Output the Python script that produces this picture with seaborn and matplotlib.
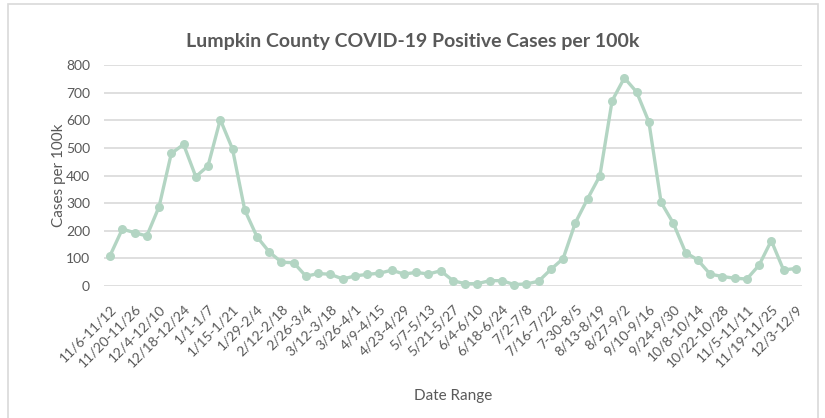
import numpy as np
import pandas as pd
import seaborn as sns
import matplotlib.pyplot as plt
from matplotlib.patches import Rectangle

# weekly cases per 100k, 11/6 through 12/9 (57 weeks)
cases = [110, 206, 193, 181, 287, 480, 513, 396, 435, 603,
         496, 275, 178, 123, 86, 84, 35, 45, 42, 25,
         36, 42, 46, 57, 43, 49, 43, 55, 19, 8,
         8, 19, 19, 5, 7, 17, 60, 99, 229, 316,
         399, 671, 754, 703, 595, 303, 227, 121, 94, 43,
         34, 28, 25, 75, 164, 58, 63]

# only every other week gets a label
tick_labels = ["11/6-11/12", "11/20-11/26", "12/4-12/10", "12/18-12/24",
               "1/1-1/7", "1/15-1/21", "1/29-2/4", "2/12-2/18", "2/26-3/4",
               "3/12-3/18", "3/26-4/1", "4/9-4/15", "4/23-4/29", "5/7-5/13",
               "5/21-5/27", "6/4-6/10", "6/18-6/24", "7/2-7/8", "7/16-7/22",
               "7-30-8/5", "8/13-8/19", "8/27-9/2", "9/10-9/16", "9/24-9/30",
               "10/8-10/14", "10/22-10/28", "11/5-11/11", "11/19-11/25", "12/3-12/9"]

df = pd.DataFrame({"week": np.arange(len(cases)), "cases": cases})

sns.set_style("white")
plt.rcParams['font.family'] = ['Lato', 'DejaVu Sans']
text_color = "#595959"
line_color = "#b3d5c3"

fig = plt.figure(figsize=(8.25, 4.18), dpi=100)
ax = fig.add_axes([0.126, 0.316, 0.846, 0.528])

sns.lineplot(data=df, x="week", y="cases", ax=ax, color=line_color,
             linewidth=2.4, marker="o", markersize=6.5, markeredgewidth=0,
             clip_on=False, zorder=3)

ax.set_xlim(-0.5, len(cases) - 0.5)
ax.set_ylim(0, 800)
ax.set_yticks(range(0, 801, 100))
ax.set_xticks(np.arange(0, len(cases), 2))
ax.set_xticklabels(tick_labels, rotation=45, ha="right", rotation_mode="anchor",
                   fontsize=10, color=text_color)
ax.tick_params(axis="y", labelsize=10, labelcolor=text_color, length=0, pad=10)
ax.tick_params(axis="x", length=0, pad=12)

ax.grid(True, axis="y", color="#d9d9d9", linewidth=1.2)
for s in ax.spines.values():
    s.set_visible(False)

ax.set_xlabel("Date Range", fontsize=11, color=text_color, labelpad=14)
ax.set_ylabel("Cases per 100k", fontsize=11, color=text_color, labelpad=0)

fig.text(0.5, 0.9, "Lumpkin County COVID-19 Positive Cases per 100k",
         ha="center", va="center", fontsize=14, fontweight="bold",
         color=text_color)

# chart area border
fig.patches.append(Rectangle((0.01, -0.01), 0.981, 1.0, transform=fig.transFigure,
                             fill=False, edgecolor="#d9d9d9", linewidth=1.2))

plt.savefig("out.png", dpi=100)
